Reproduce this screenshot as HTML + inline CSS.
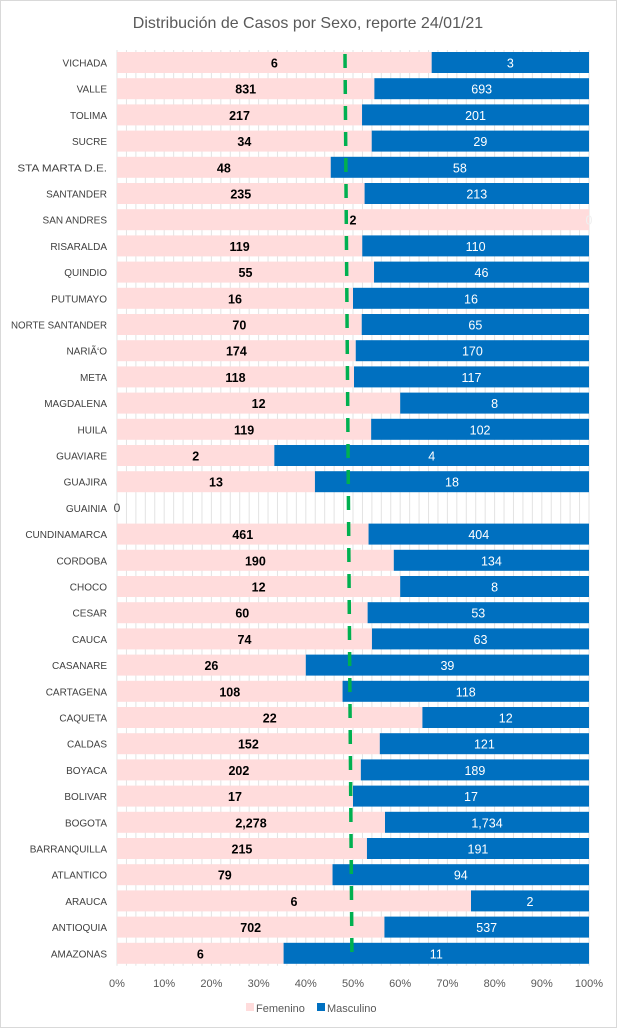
<!DOCTYPE html>
<html><head><meta charset="utf-8"><style>
body{margin:0;background:#fff}
svg{display:block;font-family:"Liberation Sans",sans-serif}
</style></head><body>
<svg id="c" width="617" height="1028">
<rect x="0.5" y="0.5" width="616" height="1027" fill="#fff" stroke="#d9d9d9"/>
<text x="308" y="28" text-anchor="middle" font-size="16" fill="#595959">Distribución de Casos por Sexo, reporte 24/01/21</text>
</svg>
<script>
const categories=["VICHADA","VALLE","TOLIMA","SUCRE","STA MARTA D.E.","SANTANDER","SAN ANDRES","RISARALDA","QUINDIO","PUTUMAYO","NORTE SANTANDER","NARIÃ‘O","META","MAGDALENA","HUILA","GUAVIARE","GUAJIRA","GUAINIA","CUNDINAMARCA","CORDOBA","CHOCO","CESAR","CAUCA","CASANARE","CARTAGENA","CAQUETA","CALDAS","BOYACA","BOLIVAR","BOGOTA","BARRANQUILLA","ATLANTICO","ARAUCA","ANTIOQUIA","AMAZONAS"];
const femenino=[6,831,217,34,48,235,2,119,55,16,70,174,118,12,119,2,13,0,461,190,12,60,74,26,108,22,152,202,17,2278,215,79,6,702,6];
const masculino=[3,693,201,29,58,213,0,110,46,16,65,170,117,8,102,4,18,0,404,134,8,53,63,39,118,12,121,189,17,1734,191,94,2,537,11];
const xTicks=[0,10,20,30,40,50,60,70,80,90,100];
const svg=document.getElementById('c');
const NS="http://www.w3.org/2000/svg";
const x0=117,x1=589,yTop=52,pitch=26.2,bh=21;
const X=p=>x0+(x1-x0)*p/100;
const Y=i=>yTop+i*pitch;
function mk(t,a,p){const e=document.createElementNS(NS,t);for(const k in a)e.setAttribute(k,a[k]);(p||svg).appendChild(e);return e;}
const fmt=n=>n.toLocaleString('en-US');
for(let g=0;g<=100;g+=2){const l=mk('line',{x1:X(g),x2:X(g),y1:yTop-2,y2:Y(categories.length-1)+bh+2,stroke:'#e3e3e3','stroke-width':1});

}
categories.forEach((c,i)=>{
 const f=femenino[i],m=masculino[i],t=f+m,y=Y(i);
 const lab=mk('text',{x:107,y:y+bh/2+4,'text-anchor':'end','font-size':10,fill:'#404040'});lab.textContent=c;
 if(c.length>12){lab.setAttribute('textLength',c.length*6.4);lab.setAttribute('lengthAdjust','spacingAndGlyphs');}
 
 
 if(t===0){const z=mk('text',{x:X(0),y:y+bh/2+4,'text-anchor':'middle','font-size':12,fill:'#404040'});z.textContent='0';
  
  return;}
 const pf=f/t*100;
 const r1=mk('rect',{x:X(0),y:y,width:X(pf)-X(0),height:bh,fill:'#ffdcdc'});
 
 
 const r2=mk('rect',{x:X(pf),y:y,width:X(100)-X(pf),height:bh,fill:'#0070c0'});
 
 
 const t1=mk('text',{x:(X(0)+X(pf))/2,y:y+bh/2+5,'text-anchor':'middle','font-size':12.5,'font-weight':'bold',fill:'#000'});t1.textContent=fmt(f);
 
 
 const t2=mk('text',{x:m===0?X(100):(X(pf)+X(100))/2,y:y+bh/2+5,'text-anchor':'middle','font-size':12.5,fill:m===0?'#f0f0f0':'#fff'});t2.textContent=fmt(m);
 
 
});
const ln=mk('line',{x1:345,y1:Y(0)+2,x2:352,y2:Y(categories.length-1)+bh,stroke:'#00b050','stroke-width':3.5,'stroke-dasharray':'14 12'});


xTicks.forEach(p=>{const t=mk('text',{x:X(p),y:987,'text-anchor':'middle','font-size':11,fill:'#595959'});t.textContent=p+'%';
 
 });
const g=mk('g',{});


const lf=mk('rect',{x:246,y:1003,width:8,height:8,fill:'#ffdcdc'},g);


const lt=mk('text',{x:256,y:1012,'font-size':11,fill:'#595959'},g);lt.textContent='Femenino';


const lm=mk('rect',{x:317,y:1003,width:8,height:8,fill:'#0070c0'},g);


const lt2=mk('text',{x:327,y:1012,'font-size':11,fill:'#595959'},g);lt2.textContent='Masculino';


</script>
</body></html>
